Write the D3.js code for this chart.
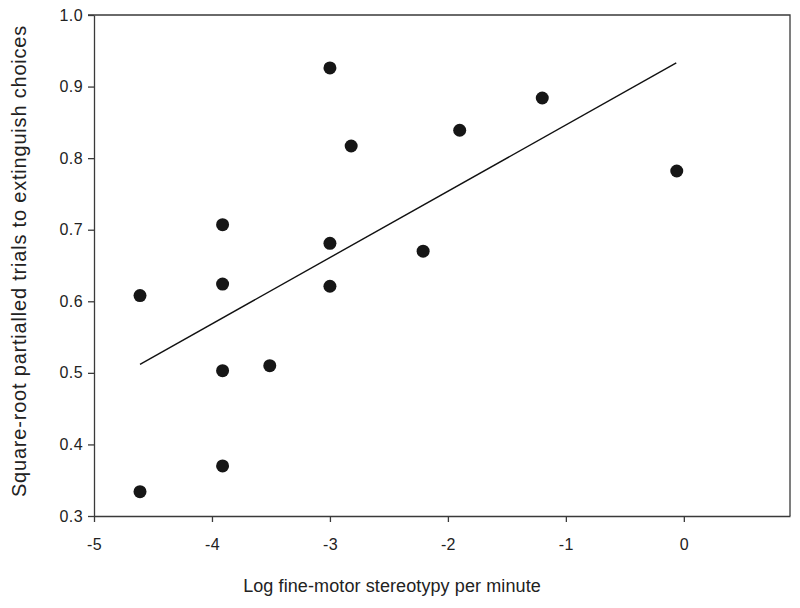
<!DOCTYPE html>
<html>
<head>
<meta charset="utf-8">
<script src="https://cdn.jsdelivr.net/npm/d3@7"></script>
<style>
  body { margin: 0; background: #fff; }
  svg { display: block; font-family: "Liberation Sans", Arial, sans-serif; }
  .axis path, .axis line { stroke: #3a3a3a; stroke-width: 1.3; }
  .axis text { fill: #222; font-size: 16px; letter-spacing: 0.4px; }
  .title { fill: #222; font-size: 18px; letter-spacing: 0.1px; }
  .title--y { font-size: 20px; letter-spacing: 0.8px; }
</style>
</head>
<body>
<div id="chart"></div>
<script>
// data
const stereotypy = [-4.61, -4.61, -3.91, -3.91, -3.91, -3.91, -3.51, -3.0, -3.0, -3.0, -2.82, -2.21, -1.9, -1.2, -0.06];
const trials = [0.608, 0.334, 0.707, 0.624, 0.503, 0.370, 0.510, 0.926, 0.681, 0.621, 0.817, 0.670, 0.839, 0.884, 0.782];
const fitX = [-4.61, -0.064];
const fitY = [0.512, 0.933];
const xTicks = [-5, -4, -3, -2, -1, 0];
const yTicks = [0.3, 0.4, 0.5, 0.6, 0.7, 0.8, 0.9, 1.0];

const width = 800;
const height = 608;
const marginLeft = 94;
const marginRight = 10;
const marginTop = 15;
const marginBottom = 92;

const scaleX = d3.scaleLinear().domain([-5, 0.9]).range([marginLeft, width - marginRight]);
const scaleY = d3.scaleLinear().domain([0.3, 1.0]).range([height - marginBottom, marginTop]);

const $svg = d3.select('#chart').append('svg')
  .attr('width', width)
  .attr('height', height);

// frame (top + right)
$svg.append('path')
  .attr('d', `M${marginLeft - 6},${marginTop}H${width - marginRight}V${height - marginBottom}`)
  .attr('fill', 'none')
  .attr('stroke', '#3a3a3a')
  .attr('stroke-width', 1.3);

// plain hyphen for negatives, like the original
const axisX = d3.axisBottom(scaleX).tickValues(xTicks).tickSize(6).tickSizeOuter(0).tickPadding(17).tickFormat(d => String(d));
$svg.append('g')
  .attr('class', 'axis axis--x')
  .attr('transform', `translate(0, ${height - marginBottom})`)
  .call(axisX);

const axisY = d3.axisLeft(scaleY).tickValues(yTicks).tickSize(6).tickSizeOuter(0).tickPadding(5).tickFormat(d3.format('.1f'));
$svg.append('g')
  .attr('class', 'axis axis--y')
  .attr('transform', `translate(${marginLeft}, 0)`)
  .call(axisY);

// regression line
const line = d3.line().x(d => scaleX(d[0])).y(d => scaleY(d[1]));
$svg.append('path')
  .datum(d3.zip(fitX, fitY))
  .attr('d', line)
  .attr('fill', 'none')
  .attr('stroke', '#111')
  .attr('stroke-width', 1.4);

// points
$svg.append('g')
  .selectAll('circle')
  .data(d3.zip(stereotypy, trials))
  .join('circle')
  .attr('cx', d => scaleX(d[0]))
  .attr('cy', d => scaleY(d[1]))
  .attr('r', 6.5)
  .attr('fill', '#161616');

// axis titles
$svg.append('text')
  .attr('class', 'title')
  .attr('x', 392)
  .attr('y', 592)
  .attr('text-anchor', 'middle')
  .text('Log fine-motor stereotypy per minute');

$svg.append('text')
  .attr('class', 'title title--y')
  .attr('transform', 'translate(26, 261) rotate(-90)')
  .attr('text-anchor', 'middle')
  .text('Square-root partialled trials to extinguish choices');
</script>
</body>
</html>
